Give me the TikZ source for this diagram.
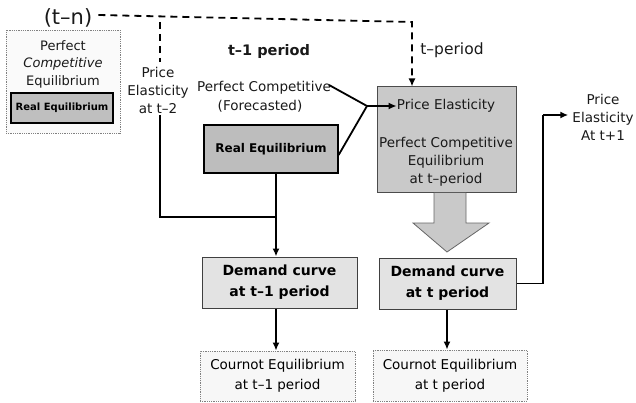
\documentclass[tikz,border=0pt]{standalone}
\usepackage{fontspec}
\setmainfont{DejaVu Sans}
\usetikzlibrary{arrows.meta}
\begin{document}
\begin{tikzpicture}[x=1pt,y=-1pt,
  txt/.style={inner sep=0pt,align=center,text=black!90},
  lbl/.style={txt,font=\fontsize{13.5}{18}\selectfont},
  box/.style={draw,inner sep=0pt,align=center,font=\fontsize{13.5}{20}\selectfont},
  arr/.style={line width=1.8pt,-{Latex[length=8pt,width=7pt]}},
  ln/.style={line width=1.8pt},
  dsh/.style={line width=1.8pt,dash pattern=on 7pt off 5pt}]
\useasboundingbox (0,0) rectangle (636,403);
% left box
\node[draw=gray,densely dotted,line width=0.8pt,fill=gray!4,minimum width=114pt,minimum height=103pt] (lb) at (63,81.5) {};
\node[lbl,font=\fontsize{13}{16}\selectfont] (lb1) at (63,46) {Perfect};
\node[lbl,font=\fontsize{13}{16}\selectfont\itshape] (lb2) at (63,64) {Competitive};
\node[lbl,font=\fontsize{13}{16}\selectfont] (lb3) at (63,82) {Equilibrium};
\node[box,fill=gray!50,line width=1.2pt,minimum width=102pt,minimum height=30pt,font=\fontsize{10}{12}\bfseries] (lbre) at (62,108) {Real Equilibrium};
% top labels
\node[txt,font=\fontsize{21}{24}\selectfont] (tn) at (68,18) {(t–n)};
\node[txt,font=\fontsize{14.5}{18}\bfseries] (t1) at (269,52) {t–1 period};
\node[txt,font=\fontsize{15.5}{18}\selectfont] (tp) at (452,50) {t–period};
\node[lbl] (pe2) at (158,90) {Price\\Elasticity\\at t–2};
\node[lbl] (pcf) at (264,88) {Perfect Competitive};
\node[lbl] (fc) at (260,106) {(Forecasted)};
% boxes
\node[box,fill=gray!52,line width=1.2pt,minimum width=134pt,minimum height=48pt,font=\fontsize{12}{14}\bfseries] (re) at (271,149) {Real Equilibrium};
\node[box,fill=gray!42,draw=black!70,line width=1pt,minimum width=139pt,minimum height=106pt] (big) at (446.5,140) {};
\node[lbl] (pe) at (446,106) {Price Elasticity};
\node[lbl] (pce) at (446,162) {Perfect Competitive\\Equilibrium\\at t–period};
\node[box,fill=gray!22,draw=black!75,line width=1pt,minimum width=155pt,minimum height=51pt,font=\fontsize{14}{21}\bfseries] (d1) at (279.5,282.5) {Demand curve\\at t–1 period};
\node[box,fill=gray!22,draw=black!75,line width=1pt,minimum width=137pt,minimum height=51pt,font=\fontsize{14}{21}\bfseries] (dt) at (447.5,283.5) {Demand curve\\at t period};
\node[box,fill=gray!6,draw=gray,densely dotted,line width=0.8pt,minimum width=155pt,minimum height=50pt] (c1) at (277.5,376) {Cournot Equilibrium\\at t–1 period};
\node[box,fill=gray!6,draw=gray,densely dotted,line width=0.8pt,minimum width=154pt,minimum height=51pt] (ct) at (450,375.5) {Cournot Equilibrium\\at t period};
\node[lbl] (pe1) at (603,117) {Price\\Elasticity\\At t+1};
% block arrow
\draw[fill=gray!42,draw=black!60,line width=0.8pt] (434,193) -- (434,223) -- (413,223) -- (447,252) -- (489,223) -- (466,223) -- (466,193);
% dashed
\coordinate (dtop) at (412,22);
\coordinate (dbr) at (160,22);
\draw[dsh] (tn.east) ++(6pt,3pt) -- (dtop) -- ++(0,58);
\draw[line width=1.8pt,-{Latex[length=8pt,width=7pt]}] (412,80) -- (big.north -| dtop);
\draw[dsh] (dbr) -- (160,62);
% connectors
\coordinate (m) at (367,106);
\coordinate (j) at (276,217);
\draw[ln] (pcf.east) ++(-2pt,3pt) -- (m);
\draw[ln] (re.east) ++(0,-6pt) -- (m);
\draw[arr] (m) -- (pe.west);
\draw[ln] (160,115) |- (j);
\draw[arr] (re.south -| j) -- (d1.north -| j);
\draw[arr] (d1.south -| j) -- (c1.north -| j);
\draw[arr] (dt.south -| 447,0) -- (ct.north -| 447,0);
\coordinate (rc) at (543,115);
\draw[ln] (dt.east) -- (dt.east -| rc) -- (rc);
\draw[arr] (rc) -- ([xshift=-4pt]pe1.west |- rc);
\end{tikzpicture}
\end{document}
